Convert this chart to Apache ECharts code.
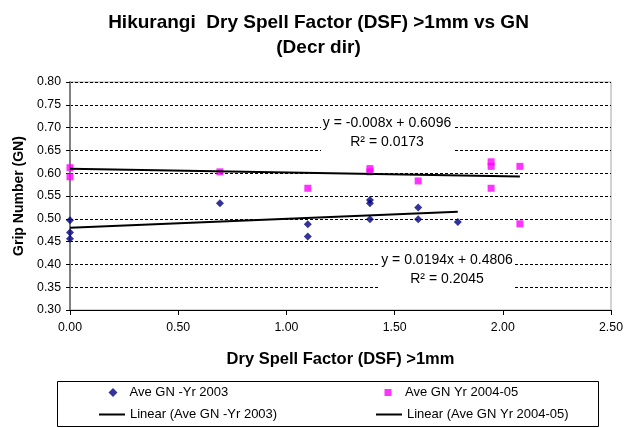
<!DOCTYPE html>
<html>
<head>
<meta charset="utf-8">
<script src="https://cdn.jsdelivr.net/npm/echarts@6/dist/echarts.min.js"></script>
<style>
  html, body { margin: 0; padding: 0; background: #fff; }
  #chart { width: 637px; height: 428px; }
</style>
</head>
<body>
<div id="chart"></div>
<script>
// Dry spell factor (x) against average grip number (y), two survey periods
const dsf2003 = [0, 0, 0, 0.693, 1.099, 1.099, 1.386, 1.386, 1.386, 1.609, 1.609, 1.792];
const gn2003  = [0.497, 0.470, 0.456, 0.534, 0.488, 0.461, 0.541, 0.534, 0.499, 0.525, 0.499, 0.493];
const dsf2004 = [0, 0, 0.693, 1.099, 1.386, 1.386, 1.609, 1.946, 1.946, 1.946, 2.079, 2.079];
const gn2004  = [0.612, 0.592, 0.603, 0.567, 0.610, 0.603, 0.583, 0.625, 0.615, 0.567, 0.615, 0.489];

// Linear trend coefficients [slope, intercept] and R² values
const fit2003 = [0.0194, 0.4806];
const r2_2003 = 0.2045;
const fit2004 = [-0.008, 0.6096];
const r2_2004 = 0.0173;

const seriesNames = ['Ave GN -Yr 2003', 'Ave GN Yr 2004-05',
                     'Linear (Ave GN -Yr 2003)', 'Linear (Ave GN Yr 2004-05)'];
const xTicks = { min: 0, max: 2.5, step: 0.5 };
const yTicks = { min: 0.30, max: 0.80, step: 0.05 };

const FONT = 'Liberation Sans, Arial, sans-serif';

function pairs(xs, ys) { return xs.map((x, i) => [x, ys[i]]); }
function trend(xs, fit) {
  const lo = Math.min(...xs), hi = Math.max(...xs);
  return [[lo, fit[0] * lo + fit[1]], [hi, fit[0] * hi + fit[1]]];
}
function eqText(fit) {
  const sign = fit[1] >= 0 ? '+' : '-';
  return 'y = ' + fit[0] + 'x ' + sign + ' ' + Math.abs(fit[1]);
}

const chart = echarts.init(document.getElementById('chart'), null, { renderer: 'canvas' });

// White-backed two-line trend equation label
function eqBox(cx, top, w, fit, r2) {
  return {
    type: 'group',
    children: [
      { type: 'rect', shape: { x: cx - w / 2, y: top, width: w, height: 40 },
        style: { fill: '#fff' }, z: 10 },
      { type: 'text', x: cx, y: top + 11, z: 11,
        style: { text: eqText(fit), fill: '#000', font: '14px ' + FONT,
                 textAlign: 'center', textVerticalAlign: 'middle' } },
      { type: 'text', x: cx, y: top + 30, z: 11,
        style: { text: 'R² = ' + r2, fill: '#000', font: '14px ' + FONT,
                 textAlign: 'center', textVerticalAlign: 'middle' } }
    ]
  };
}

function legendAt(name, icon, left, top, w, h, pad) {
  return {
    data: [name], icon: icon, left: left, top: top, itemWidth: w, itemHeight: h,
    padding: 0, itemGap: 0, selectedMode: false,
    textStyle: { fontFamily: FONT, fontSize: 13, color: '#000', padding: [0, 0, 0, pad] }
  };
}

chart.setOption({
  animation: false,
  backgroundColor: '#fff',
  title: {
    text: 'Hikurangi  Dry Spell Factor (DSF) >1mm vs GN\n(Decr dir)',
    left: 'center', top: 5,
    textStyle: { fontFamily: FONT, fontSize: 19, fontWeight: 'bold', color: '#000', lineHeight: 25 }
  },
  grid: { left: 70, right: 26, top: 82, bottom: 118, show: true,
          borderColor: '#a6a6a6', borderWidth: 1, backgroundColor: 'transparent' },
  legend: [
    legendAt(seriesNames[0], 'diamond', 108.5, 386, 9, 9, 7),
    legendAt(seriesNames[1], 'rect', 384.5, 386, 7, 7, 8.5),
    legendAt(seriesNames[2], 'rect', 99, 408, 26, 2, 0),
    legendAt(seriesNames[3], 'rect', 376, 408, 26, 2, 0)
  ],
  xAxis: {
    type: 'value', min: xTicks.min, max: xTicks.max, interval: xTicks.step,
    name: 'Dry Spell Factor (DSF) >1mm', nameLocation: 'middle', nameGap: 41,
    nameTextStyle: { fontFamily: FONT, fontSize: 16.5, fontWeight: 'bold', color: '#000' },
    axisLine: { lineStyle: { color: '#000', width: 1 } },
    axisTick: { length: 5, lineStyle: { color: '#000' } },
    axisLabel: { fontFamily: FONT, fontSize: 12.3, color: '#000', margin: 12,
                 formatter: v => v.toFixed(2) },
    splitLine: { show: false }
  },
  yAxis: {
    type: 'value', min: yTicks.min, max: yTicks.max, interval: yTicks.step,
    name: 'Grip Number (GN)', nameLocation: 'middle', nameGap: 41, nameRotate: 90,
    nameTextStyle: { fontFamily: FONT, fontSize: 14, fontWeight: 'bold', color: '#000' },
    axisLine: { lineStyle: { color: '#808080', width: 2 } },
    axisTick: { length: 4, lineStyle: { color: '#000' } },
    axisLabel: { fontFamily: FONT, fontSize: 12.3, color: '#000', margin: 9,
                 formatter: v => v.toFixed(2) },
    splitLine: { show: true, lineStyle: { color: '#000', width: 1, type: [3, 2] } }
  },
  series: [
    { name: seriesNames[0], type: 'scatter', symbol: 'diamond', symbolSize: 8,
      itemStyle: { color: '#000080' }, data: pairs(dsf2003, gn2003), z: 3 },
    { name: seriesNames[1], type: 'scatter', symbol: 'rect', symbolSize: 7,
      itemStyle: { color: '#ff00ff' }, data: pairs(dsf2004, gn2004), z: 3 },
    { name: seriesNames[2], type: 'line', symbol: 'none', showSymbol: false,
      lineStyle: { color: '#000', width: 2 }, itemStyle: { color: '#000' },
      data: trend(dsf2003, fit2003), z: 4 },
    { name: seriesNames[3], type: 'line', symbol: 'none', showSymbol: false,
      lineStyle: { color: '#000', width: 2 }, itemStyle: { color: '#000' },
      data: trend(dsf2004, fit2004), z: 4 }
  ],
  graphic: [
    eqBox(387, 112, 132, fit2004, r2_2004),
    eqBox(447, 249, 136, fit2003, r2_2003),
    { type: 'rect', shape: { x: 57.5, y: 381.5, width: 541, height: 45 },
      style: { fill: 'none', stroke: '#000', lineWidth: 1 }, z: 0 }
  ]
});
</script>
</body>
</html>
